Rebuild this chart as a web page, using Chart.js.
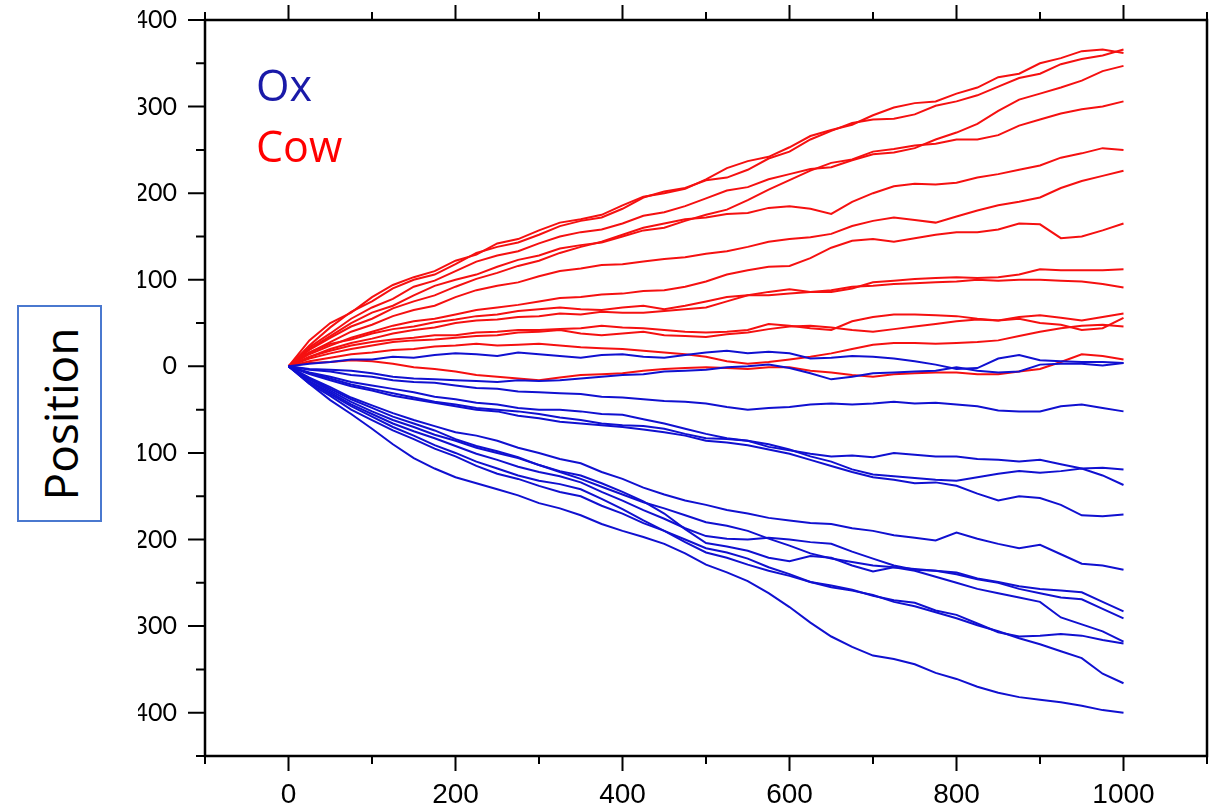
<!DOCTYPE html>
<html lang="en">
<head>
  <meta charset="UTF-8" />
  <title>Ox / Cow position</title>
  <script src="https://cdn.jsdelivr.net/npm/chart.js"></script>
  <style>
    body {
      margin: 0;
      background: #ffffff;
      width: 1214px;
      height: 809px;
      overflow: hidden;
      position: relative;
    }
    #wrap {
      position: absolute;
      left: 138px;
      top: 0;
      width: 1076px;
      height: 809px;
    }
    .key {
      position: absolute;
      left: 256px;
      font-family: "Open Sans", sans-serif;
      font-size: 43px;
      line-height: 1;
    }
    #ox { top: 63px; color: #1a1aa8; }
    #cow { top: 124px; color: #ff0000; }
    #ylab {
      position: absolute;
      left: 17px;
      top: 305px;
      width: 85px;
      height: 217px;
      border: 2px solid #4a78cf;
      box-sizing: border-box;
    }
    #ylab span {
      position: absolute;
      left: 50%;
      top: 50%;
      transform: translate(-50%, -50%) rotate(-90deg);
      font-family: "Open Sans", sans-serif;
      font-size: 46px;
      white-space: nowrap;
      color: #000;
    }
  </style>
</head>
<body>
  <div id="wrap"><canvas id="chart" width="1076" height="809"></canvas></div>
  <div class="key" id="ox">Ox</div>
  <div class="key" id="cow">Cow</div>
  <div id="ylab"><span>Position</span></div>

  <script>
    // time steps (x), every 25
    const steps = [0, 25, 50, 75, 100, 125, 150, 175, 200, 225, 250, 275, 300, 325, 350, 375, 400,
                   425, 450, 475, 500, 525, 550, 575, 600, 625, 650, 675, 700, 725, 750, 775, 800,
                   825, 850, 875, 900, 925, 950, 975, 1000];

    // cow walks (red)
    const cow1  = [0, 30, 50, 62, 80, 94, 103, 110, 122, 129, 142, 147, 157, 166, 170, 175, 186, 196, 200, 205, 216, 229, 237, 242, 253, 266, 273, 279, 290, 299, 304, 306, 315, 322, 334, 338, 350, 356, 364, 366, 362];
    const cow2  = [0, 24, 45, 63, 75, 90, 100, 106, 118, 131, 138, 143, 152, 162, 168, 172, 182, 195, 202, 206, 215, 218, 227, 240, 248, 262, 272, 281, 285, 286, 291, 301, 306, 313, 323, 333, 338, 349, 355, 359, 366];
    const cow3  = [0, 22, 38, 55, 68, 78, 92, 99, 110, 121, 128, 133, 142, 150, 155, 158, 165, 174, 178, 185, 194, 203, 207, 216, 222, 228, 230, 238, 245, 247, 252, 262, 270, 280, 295, 308, 315, 322, 330, 341, 347];
    const cow4  = [0, 20, 35, 50, 62, 70, 82, 93, 100, 106, 115, 123, 128, 136, 140, 143, 150, 157, 160, 168, 175, 181, 192, 204, 215, 226, 235, 239, 248, 251, 255, 257, 262, 262, 267, 278, 285, 292, 297, 300, 306];
    const cow5  = [0, 19, 33, 46, 55, 67, 75, 82, 92, 101, 108, 116, 122, 131, 138, 144, 152, 160, 165, 170, 172, 176, 177, 183, 185, 182, 176, 190, 200, 208, 211, 210, 212, 218, 222, 227, 232, 241, 246, 252, 250];
    const cow6  = [0, 16, 28, 40, 48, 58, 65, 70, 80, 88, 93, 97, 104, 110, 113, 117, 118, 121, 124, 126, 130, 133, 138, 144, 147, 149, 153, 162, 168, 172, 169, 166, 173, 180, 186, 190, 195, 206, 214, 220, 226];
    const cow7  = [0, 14, 24, 33, 40, 47, 52, 55, 60, 65, 68, 71, 75, 79, 80, 83, 84, 87, 88, 92, 98, 106, 111, 115, 116, 125, 137, 145, 147, 144, 148, 152, 155, 155, 158, 165, 164, 148, 150, 157, 165];
    const cow8  = [0, 11, 20, 27, 32, 38, 42, 45, 50, 53, 54, 57, 58, 61, 60, 63, 62, 62, 64, 66, 68, 75, 82, 86, 89, 86, 86, 90, 97, 99, 101, 102, 103, 102, 103, 106, 112, 111, 111, 111, 112];
    const cow9  = [0, 16, 26, 31, 38, 43, 46, 51, 54, 58, 60, 64, 66, 68, 66, 65, 68, 70, 66, 70, 75, 80, 82, 82, 84, 86, 88, 92, 93, 95, 96, 97, 98, 100, 99, 100, 100, 99, 98, 95, 91];
    const cow10 = [0, 11, 18, 24, 28, 31, 33, 36, 36, 39, 40, 42, 42, 43, 44, 47, 45, 44, 42, 40, 39, 40, 42, 49, 47, 44, 42, 52, 57, 60, 60, 59, 58, 55, 53, 57, 59, 56, 53, 57, 61];
    const cow11 = [0, 9, 15, 20, 24, 28, 30, 31, 33, 35, 36, 39, 40, 42, 38, 36, 38, 40, 36, 35, 34, 37, 39, 43, 46, 47, 45, 42, 40, 43, 46, 49, 52, 54, 53, 55, 50, 48, 42, 44, 56];
    const cow12 = [0, 6, 10, 14, 16, 19, 20, 23, 24, 26, 24, 25, 26, 24, 22, 21, 20, 18, 16, 14, 11, 6, 3, 5, 8, 11, 15, 20, 25, 27, 27, 26, 27, 28, 30, 35, 40, 44, 47, 48, 46];
    const cow13 = [0, 4, 5, 7, 6, 3, -1, -3, -6, -10, -12, -14, -16, -13, -10, -9, -8, -5, -3, -2, -1, -2, -3, -1, -1, -5, -7, -10, -12, -9, -8, -7, -7, -9, -9, -6, -3, 5, 14, 12, 8];

    // ox walks (blue)
    const ox1  = [0, 3, 5, 8, 8, 11, 10, 13, 15, 14, 12, 16, 14, 12, 10, 13, 14, 11, 10, 13, 16, 18, 15, 17, 15, 9, 10, 12, 11, 9, 6, 2, -3, -2, 9, 13, 7, 6, 5, 5, 4];
    const ox2  = [0, -3, -4, -5, -8, -12, -14, -15, -16, -17, -18, -16, -17, -16, -14, -12, -10, -9, -6, -5, -4, -1, 0, 2, -2, -8, -15, -12, -8, -7, -6, -5, -1, -5, -7, -6, 2, 3, 3, 1, 4];
    const ox3  = [0, -4, -6, -10, -12, -16, -18, -19, -22, -25, -26, -29, -30, -31, -32, -35, -36, -38, -40, -41, -43, -47, -50, -48, -47, -44, -43, -44, -43, -41, -43, -42, -44, -46, -51, -52, -52, -46, -44, -48, -52];
    const ox4  = [0, -7, -12, -18, -22, -26, -30, -35, -38, -42, -44, -48, -50, -50, -52, -55, -56, -61, -66, -72, -78, -83, -86, -93, -97, -101, -104, -103, -105, -100, -102, -104, -104, -107, -108, -110, -108, -113, -118, -117, -119];
    const ox5  = [0, -8, -14, -21, -26, -31, -36, -41, -44, -48, -50, -52, -55, -59, -62, -66, -68, -69, -72, -78, -83, -84, -86, -90, -96, -104, -110, -119, -125, -127, -129, -131, -132, -128, -124, -121, -123, -121, -118, -126, -137];
    const ox6  = [0, -9, -16, -23, -28, -34, -38, -42, -46, -50, -52, -57, -60, -64, -66, -68, -70, -73, -76, -80, -86, -88, -91, -96, -101, -108, -115, -122, -128, -131, -135, -134, -138, -147, -155, -150, -152, -160, -172, -173, -171];
    const ox7  = [0, -13, -24, -36, -45, -54, -62, -69, -76, -80, -86, -94, -100, -107, -112, -122, -130, -140, -148, -155, -160, -166, -170, -175, -178, -181, -182, -187, -190, -195, -198, -201, -192, -199, -205, -210, -206, -217, -228, -230, -235];
    const ox8  = [0, -15, -28, -41, -52, -62, -70, -79, -86, -94, -100, -106, -114, -121, -126, -135, -145, -156, -170, -188, -204, -208, -213, -221, -225, -219, -221, -230, -237, -232, -234, -236, -238, -245, -249, -254, -257, -259, -261, -272, -283];
    const ox9  = [0, -17, -30, -44, -55, -66, -75, -83, -92, -101, -108, -116, -122, -127, -134, -145, -155, -166, -176, -187, -196, -199, -200, -198, -200, -203, -205, -214, -222, -230, -235, -236, -240, -246, -250, -257, -262, -267, -269, -280, -291];
    const ox10 = [0, -18, -32, -46, -58, -70, -80, -91, -100, -110, -118, -126, -132, -136, -142, -153, -165, -178, -190, -203, -215, -221, -229, -236, -242, -249, -253, -258, -265, -270, -273, -282, -287, -297, -307, -312, -311, -309, -311, -316, -320];
    const ox11 = [0, -14, -26, -38, -48, -58, -66, -74, -84, -92, -98, -105, -114, -122, -130, -139, -148, -157, -164, -172, -180, -184, -190, -199, -207, -216, -222, -226, -230, -232, -236, -243, -250, -257, -262, -267, -272, -290, -298, -306, -318];
    const ox12 = [0, -20, -34, -50, -62, -74, -84, -95, -104, -115, -124, -130, -138, -145, -150, -161, -170, -181, -190, -200, -210, -215, -222, -232, -240, -249, -255, -259, -264, -272, -277, -284, -291, -299, -306, -314, -321, -329, -337, -355, -366];
    const ox13 = [0, -20, -39, -55, -72, -90, -106, -118, -128, -135, -142, -149, -158, -164, -172, -182, -190, -197, -205, -216, -229, -238, -248, -262, -278, -296, -312, -324, -334, -338, -344, -354, -361, -370, -377, -382, -385, -388, -392, -397, -400];

    // axis ticks
    const xLabels = [0, 200, 400, 600, 800, 1000];
    const xMarks = [-100, 0, 100, 200, 300, 400, 500, 600, 700, 800, 900, 1000, 1100];
    const yLabels = [-400, -300, -200, -100, 0, 100, 200, 300, 400];
    const yMarks = [-450, -400, -350, -300, -250, -200, -150, -100, -50, 0, 50, 100, 150, 200, 250, 300, 350, 400];

    const oxSeries = [ox1, ox2, ox3, ox4, ox5, ox6, ox7, ox8, ox9, ox10, ox11, ox12, ox13];
    const cowSeries = [cow1, cow2, cow3, cow4, cow5, cow6, cow7, cow8, cow9, cow10, cow11, cow12, cow13];

    function walk(values, color) {
      return {
        data: values.map((v, i) => ({ x: steps[i], y: v })),
        borderColor: color,
        borderWidth: 2,
        pointRadius: 0,
        tension: 0,
        fill: false
      };
    }

    const datasets = [
      ...oxSeries.map(s => walk(s, '#1010d0')),
      ...cowSeries.map(s => walk(s, '#f51010'))
    ];

    // frame on all four sides + outward tick marks
    const frame = {
      id: 'frame',
      afterDraw(chart) {
        const { ctx, chartArea: a, scales: { x, y } } = chart;
        ctx.save();
        ctx.strokeStyle = '#000';
        ctx.lineWidth = 2.5;
        ctx.strokeRect(a.left, a.top, a.right - a.left, a.bottom - a.top);
        ctx.lineWidth = 2;
        ctx.beginPath();
        xMarks.forEach(v => {
          const px = x.getPixelForValue(v);
          const len = v % 200 === 0 ? 15 : 8;
          ctx.moveTo(px, a.bottom);
          ctx.lineTo(px, a.bottom + len);
          ctx.moveTo(px, a.top);
          ctx.lineTo(px, a.top - len);
        });
        yMarks.forEach(v => {
          const py = y.getPixelForValue(v);
          const len = v % 100 === 0 ? 17 : 9;
          ctx.moveTo(a.left, py);
          ctx.lineTo(a.left - len, py);
        });
        ctx.stroke();
        ctx.restore();
      }
    };

    new Chart(document.getElementById('chart'), {
      type: 'line',
      data: { datasets: datasets },
      options: {
        responsive: false,
        animation: false,
        layout: { padding: { left: 0, right: 7, top: 20, bottom: 0 } },
        plugins: {
          legend: { display: false },
          tooltip: { enabled: false }
        },
        scales: {
          x: {
            type: 'linear',
            min: -100,
            max: 1100,
            afterBuildTicks: s => { s.ticks = xLabels.map(v => ({ value: v })); },
            afterFit: s => {
              s.height = 53;
              s.paddingLeft = 0;
              s.paddingRight = 0;
            },
            grid: { display: false, drawTicks: false },
            border: { display: false },
            ticks: {
              color: '#000',
              padding: 22,
              maxRotation: 0,
              autoSkip: false,
              font: { family: 'Liberation Sans', size: 28 },
              callback: v => String(v)
            }
          },
          y: {
            type: 'linear',
            min: -450,
            max: 400,
            afterBuildTicks: s => { s.ticks = yLabels.map(v => ({ value: v })); },
            afterFit: s => {
              s.width = 67;
              s.paddingTop = 0;
              s.paddingBottom = 0;
            },
            grid: { display: false, drawTicks: false },
            border: { display: false },
            ticks: {
              color: '#000',
              padding: 28,
              autoSkip: false,
              font: { family: 'Lato', size: 25 },
              callback: v => String(v)
            }
          }
        }
      },
      plugins: [frame]
    });
  </script>
</body>
</html>
